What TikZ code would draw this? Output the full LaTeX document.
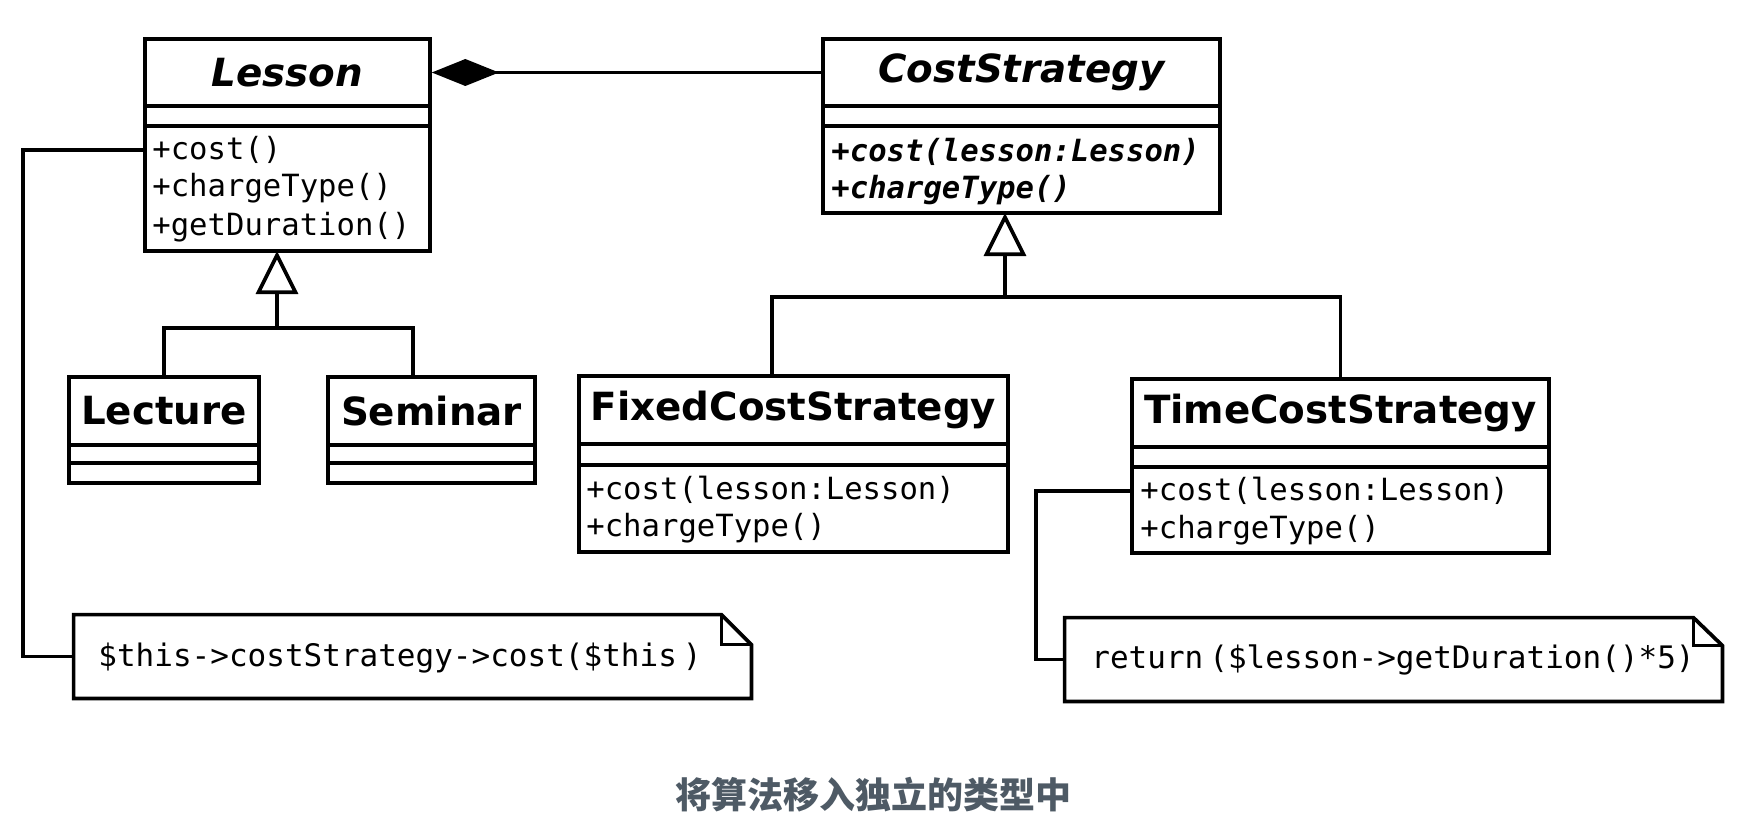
\documentclass[tikz,border=0pt]{standalone}
\usepackage{fontspec}
\setmainfont{DejaVu Sans}
\newfontfamily\monof{DejaVu Sans Mono}
\newfontfamily\cjkf{Noto Sans CJK SC}
\usetikzlibrary{fit,calc,arrows.meta}
\definecolor{capc}{HTML}{4E5A65}
\tikzset{
  comp/.style={draw, line width=1.85pt, inner sep=0pt},
  plainfit/.style={inner sep=0pt},
  cname/.style={font=\fontsize{19.4}{23}\selectfont\bfseries, inner sep=0pt},
  meth/.style={font=\monof\fontsize{15.3}{18}\selectfont, anchor=west, inner sep=0pt},
  ameth/.style={font=\monof\fontsize{15.3}{18}\selectfont\bfseries\itshape, anchor=west, inner sep=0pt},
  notetext/.style={font=\monof\fontsize{15.5}{18}\selectfont, anchor=west, inner sep=0pt},
  conn/.style={line width=1.85pt},
  gen/.style={conn, -{Triangle[open, length=21.5pt, width=21pt]}},
  compo/.style={conn, -{Diamond[length=33.5pt, width=13.5pt]}},
  notebox/.style={line width=1.85pt}
}
\begin{document}
\begin{tikzpicture}[x=0.5pt,y=-0.5pt]
\useasboundingbox (0,0) rectangle (1746,840);

% Lesson
\node[comp, fit={(145,39) (430,106)}] (lessonH) {};
\node[comp, fit={(145,106) (430,126)}] (lessonA) {};
\node[comp, fit={(145,126) (430,251)}] (lessonM) {};
\node[cname] (lessonT) at (lessonH.center) {\itshape Lesson};
\node[meth] (lm1) at (152,150) {+cost()};
\node[meth] (lm2) at (152,188.5) {+chargeType()};
\node[meth] (lm3) at (152,227) {+getDuration()};

% CostStrategy
\node[comp, fit={(823,39) (1220,106)}] (costH) {};
\node[comp, fit={(823,106) (1220,126)}] (costA) {};
\node[comp, fit={(823,126) (1220,213)}] (costM) {};
\node[cname] (costT) at (costH.center) {\itshape CostStrategy};
\node[ameth] (cm1) at (831,152) {+cost(lesson:Lesson)};
\node[ameth] (cm2) at (831,190) {+chargeType()};

% Lecture
\node[comp, fit={(69,377) (259,445)}] (lectH) {};
\node[comp, fit={(69,445) (259,463)}] (lectA) {};
\node[comp, fit={(69,463) (259,483)}] (lectM) {};
\node[cname] (lectT) at (lectH.center) {Lecture};

% Seminar
\node[comp, fit={(328,377) (535,445)}] (semH) {};
\node[comp, fit={(328,445) (535,463)}] (semA) {};
\node[comp, fit={(328,463) (535,483)}] (semM) {};
\node[cname] (semT) at (semH.center) {Seminar};

% FixedCostStrategy
\node[comp, fit={(579,376) (1008,444)}] (fixH) {};
\node[comp, fit={(579,444) (1008,465)}] (fixA) {};
\node[comp, fit={(579,465) (1008,552)}] (fixM) {};
\node[cname] (fixT) at (fixH.center) {FixedCostStrategy};
\node[meth] (fm1) at (586,490) {+cost(lesson:Lesson)};
\node[meth] (fm2) at (586,528) {+chargeType()};

% TimeCostStrategy
\node[comp, fit={(1132,379) (1549,447)}] (timeH) {};
\node[comp, fit={(1132,447) (1549,467)}] (timeA) {};
\node[comp, fit={(1132,467) (1549,553)}] (timeM) {};
\node[cname] (timeT) at (timeH.center) {TimeCostStrategy};
\node[meth] (tm1) at (1140,491) {+cost(lesson:Lesson)};
\node[meth] (tm2) at (1140,530) {+chargeType()};

% Notes
\node[plainfit, fit={(74,615) (751,698)}] (note1) {};
\draw[notebox] (note1.north west) -- ($(note1.north east)+(-30,0)$) -- ($(note1.north east)+(0,30)$) -- (note1.south east) -- (note1.south west) -- cycle;
\draw[notebox] ($(note1.north east)+(-30,0)$) -- ($(note1.north east)+(-30,30)$) -- ($(note1.north east)+(0,30)$);
\node[notetext] (note1T) at (98,658) {\$this->costStrategy->cost(\$this\kern3pt)};

\node[plainfit, fit={(1065,618) (1722,701)}] (note2) {};
\draw[notebox] (note2.north west) -- ($(note2.north east)+(-29,0)$) -- ($(note2.north east)+(0,28)$) -- (note2.south east) -- (note2.south west) -- cycle;
\draw[notebox] ($(note2.north east)+(-29,0)$) -- ($(note2.north east)+(-29,28)$) -- ($(note2.north east)+(0,28)$);
\node[notetext] (note2T) at (1091,660) {return\kern3pt(\$lesson->getDuration()*5)};

% Composition
\draw[compo] (costH.west) -- (lessonH.east);

% Generalisation Lesson
\coordinate (lj) at (277,328);
\coordinate (lgen) at (277,251);
\coordinate (semtop) at (413,377);
\draw[conn] (lectH.north) |- (lj);
\draw[conn] (semtop) |- (lj);
\draw[gen] (lj) -- (lgen);

% Generalisation CostStrategy
\coordinate (rj) at (1005,297);
\coordinate (cgen) at (1005,213);
\coordinate (fixtop) at (772,376);
\draw[conn] (fixtop) |- (rj);
\draw[conn] (timeH.north) |- (rj);
\draw[gen] (rj) -- (cgen);

% Note connectors
\draw[conn] (lessonM.west |- lm1.west) -- ++(-120,0) |- (note1.west);
\draw[conn] (timeM.west |- tm1.west) -- ++(-94,0) |- (note2.west);

% Caption
\node[font=\cjkf\bfseries\fontsize{18}{21}\selectfont, text=capc] (cap) at (873,795) {将算法移入独立的类型中};
\end{tikzpicture}
\end{document}
